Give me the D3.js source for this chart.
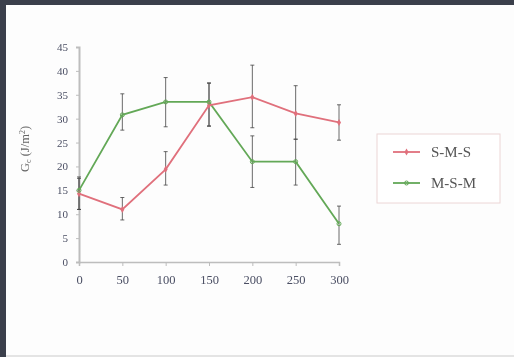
<!DOCTYPE html>
<html><head><meta charset="utf-8">
<script src="https://cdn.jsdelivr.net/npm/d3@7"></script>
<style>
html,body{margin:0;padding:0;background:#fff;}
svg{display:block;filter:blur(0.5px);}
</style></head>
<body>
<svg id="c" width="514" height="357"></svg>
<script>
const categories = [0, 50, 100, 150, 200, 250, 300];
const smsValues = [14.3, 11.0, 19.4, 32.8, 34.5, 31.1, 29.2];
const smsLow    = [11.0, 8.8, 16.1, 28.5, 28.1, 25.7, 25.5];
const smsHigh   = [17.5, 13.5, 23.1, 37.5, 41.2, 36.9, 32.9];
const msmValues = [15.0, 30.8, 33.5, 33.5, 21.0, 21.0, 8.0];
const msmLow    = [11.0, 27.6, 28.3, 28.4, 15.6, 16.1, 3.7];
const msmHigh   = [17.8, 35.2, 38.6, 37.4, 26.4, 25.7, 11.7];
const yTicks = [0, 5, 10, 15, 20, 25, 30, 35, 40, 45];
const seriesNames = ["S-M-S", "M-S-M"];

const svg = d3.select("#c");
// frame
svg.append("rect").attr("x",0).attr("y",0).attr("width",514).attr("height",357).attr("fill","#3b3f4b");
svg.append("rect").attr("x",6).attr("y",5).attr("width",508).attr("height",350).attr("fill","#fdfdfd");
svg.append("rect").attr("x",6).attr("y",355).attr("width",508).attr("height",2).attr("fill","#e4e4e4");

const x = d3.scaleLinear().domain([0,300]).range([79,339]);
const y = d3.scaleLinear().domain([0,45]).range([262,47]);

const gray = "#bdbdbd";
const labelColor = "#4a4e63";
// y axis
const ya = svg.append("g").attr("transform","translate(79,0)")
  .call(d3.axisLeft(y).tickValues(yTicks).tickSize(3).tickPadding(8));
ya.select(".domain").attr("stroke",gray).attr("stroke-width",2);
ya.selectAll(".tick line").attr("stroke",gray);
ya.selectAll("text").attr("font-family","Liberation Serif").attr("font-size",11).attr("fill",labelColor);

// x axis
const xa = svg.append("g").attr("transform","translate(0,262)")
  .call(d3.axisBottom(x).tickValues(categories).tickSize(4).tickPadding(9));
xa.select(".domain").attr("stroke",gray).attr("stroke-width",1.5);
xa.selectAll(".tick line").attr("stroke",gray);
xa.selectAll("text").attr("font-family","Liberation Serif").attr("font-size",12.5).attr("fill",labelColor);

// y title
const yt = svg.append("text").attr("transform","translate(29,149) rotate(-90)")
  .attr("text-anchor","middle").attr("font-family","Liberation Serif").attr("font-size",12.5).attr("fill","#666");
yt.append("tspan").text("G");
yt.append("tspan").attr("font-size",8).attr("dy",2).text("c");
yt.append("tspan").attr("dy",-2).text(" (J/m");
yt.append("tspan").attr("font-size",8).attr("dy",-4).text("2");
yt.append("tspan").attr("dy",4).text(")");

const red = "#e0707c", green = "#63a857";
const series = [
  {name:seriesNames[0], vals:smsValues, lo:smsLow, hi:smsHigh, color:red},
  {name:seriesNames[1], vals:msmValues, lo:msmLow, hi:msmHigh, color:green}
];

const line = d3.line().x((d,i)=>x(categories[i])).y(d=>y(d));
// error bars
series.forEach(s=>{
  const g = svg.append("g").attr("stroke","#444").attr("stroke-width",0.8);
  categories.forEach((c,i)=>{
    g.append("line").attr("x1",x(c)).attr("x2",x(c)).attr("y1",y(s.lo[i])).attr("y2",y(s.hi[i]));
    g.append("line").attr("x1",x(c)-2).attr("x2",x(c)+2).attr("y1",y(s.lo[i])).attr("y2",y(s.lo[i]));
    g.append("line").attr("x1",x(c)-2).attr("x2",x(c)+2).attr("y1",y(s.hi[i])).attr("y2",y(s.hi[i]));
  });
});
series.slice().reverse().forEach(s=>{
  svg.append("path").datum(s.vals).attr("d",line).attr("fill","none").attr("stroke",s.color).attr("stroke-width",1.8);
});
// markers
svg.selectAll(".m1").data(smsValues).enter().append("path")
  .attr("d",d3.symbol().type(d3.symbolDiamond).size(14))
  .attr("transform",(d,i)=>`translate(${x(categories[i])},${y(d)})`).attr("fill",red);
svg.selectAll(".m2").data(msmValues).enter().append("circle")
  .attr("cx",(d,i)=>x(categories[i])).attr("cy",d=>y(d)).attr("r",2)
  .attr("fill","none").attr("stroke",green).attr("stroke-width",1);

// legend
svg.append("rect").attr("x",377).attr("y",134).attr("width",123).attr("height",69)
  .attr("fill","#fff").attr("stroke","#ecd6d6").attr("stroke-width",1);
series.forEach((s,i)=>{
  const ly = 152 + i*31;
  svg.append("line").attr("x1",393).attr("x2",420).attr("y1",ly).attr("y2",ly).attr("stroke",s.color).attr("stroke-width",1.8);
  if(i===0) svg.append("path").attr("d",d3.symbol().type(d3.symbolDiamond).size(14)).attr("transform",`translate(406.5,${ly})`).attr("fill",red);
  else svg.append("circle").attr("cx",406.5).attr("cy",ly).attr("r",2).attr("fill","none").attr("stroke",green);
  svg.append("text").attr("x",431).attr("y",ly+5).attr("font-family","Liberation Serif").attr("font-size",15)
    .attr("fill","#555").text(s.name);
});
</script>
</body></html>
